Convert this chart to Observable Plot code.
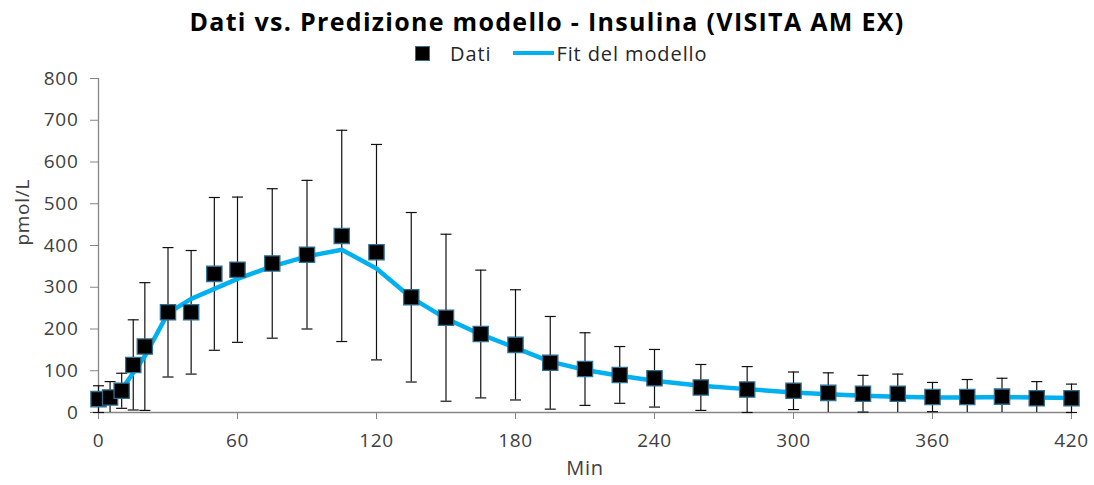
<!DOCTYPE html>
<html>
<head>
<meta charset="utf-8">
<script src="https://cdn.jsdelivr.net/npm/d3@7"></script>
<script src="https://cdn.jsdelivr.net/npm/@observablehq/plot@0.6"></script>
<style>
  body { margin: 0; background: #fff; font-family: "Open Sans", sans-serif; }
  #wrap { position: relative; width: 1094px; height: 485px; overflow: hidden; background: #fff; }
  #title { position: absolute; top: 4px; left: 0; width: 1094px; text-align: center; z-index: 2;
           font-weight: bold; font-size: 25px; letter-spacing: 1.3px; color: #000; white-space: nowrap; }
  #legend { position: absolute; top: 40px; left: 415px; height: 26px; display: flex; z-index: 2;
            align-items: center; font-size: 20px; letter-spacing: 0.9px; color: #262626; white-space: nowrap; }
  .sw-square { width: 13px; height: 13px; background: #000; border: 1px solid #2f6f8f; }
  .sw-line { width: 41px; height: 4px; background: #00b0f0; }
  #chart { position: absolute; top: 58px; left: 0; z-index: 1; }
</style>
</head>
<body>
<div id="wrap">
  <div id="title"></div>
  <div id="legend"></div>
  <div id="chart"></div>
</div>
<script>
// Insulin: measured means (± SD) and model fit over time
const titolo = "Dati vs. Predizione modello - Insulina (VISITA AM EX)";
const nomeDati = "Dati";
const nomeFit = "Fit del modello";
const etichettaX = "Min";
const etichettaY = "pmol/L";

const tempi = [0, 5, 10, 15, 20, 30, 40, 50, 60, 75, 90, 105, 120, 135, 150, 165, 180, 195, 210, 225, 240, 260, 280, 300, 315, 330, 345, 360, 375, 390, 405, 420];
const dati  = [32, 36, 52, 114, 158, 240, 240, 332, 342, 357, 378, 423, 384, 276, 227, 188, 162, 119, 104, 90, 82, 60, 55, 52, 47, 45, 45, 37, 37, 38, 34, 34];
const ds    = [32, 38, 42, 108, 153, 155, 148, 183, 174, 179, 178, 253, 258, 203, 200, 153, 132, 111, 87, 68, 69, 55, 55, 45, 48, 44, 47, 35, 42, 44, 40, 34];
const fit   = [33, 36, 55, 95, 135, 238, 272, 296, 320, 350, 374, 390, 345, 275, 225, 187, 155, 122, 102, 88, 76, 64, 56, 48, 44, 40, 38, 36, 36, 37, 36, 35];

const xTicks = [0, 60, 120, 180, 240, 300, 360, 420];
const yTicks = [0, 100, 200, 300, 400, 500, 600, 700, 800];

const rows = tempi.map((t, i) => ({
  t, v: dati[i], sd: ds[i], f: fit[i],
  lo: Math.max(0, dati[i] - ds[i]), hi: dati[i] + ds[i], capLo: dati[i] - ds[i] >= 0
}));

// horizontal cap for the error bars
const cap = { draw(ctx) { ctx.moveTo(-5.5, 0); ctx.lineTo(5.5, 0); } };

document.getElementById("title").textContent = titolo;
document.getElementById("legend").innerHTML =
  `<span class="sw-square"></span><span style="margin-left:20px">${nomeDati}</span>` +
  `<span class="sw-line" style="margin-left:22px"></span><span style="margin-left:2px">${nomeFit}</span>`;

const axisColor = "#868686";
const chart = Plot.plot({
  width: 1094,
  height: 427,
  marginLeft: 98,
  marginRight: 23,
  marginTop: 20,
  marginBottom: 73,
  style: { fontFamily: "'Open Sans', sans-serif", fontSize: "19px", color: "#404040", background: "transparent", overflow: "visible" },
  x: { domain: [0, 420] },
  y: { domain: [0, 800] },
  marks: [
    Plot.ruleY([0], { stroke: axisColor, strokeWidth: 1.3 }),
    Plot.ruleX([0], { stroke: axisColor, strokeWidth: 1.3 }),
    Plot.axisX({ ticks: xTicks, tickSize: 7, tickPadding: 14, stroke: axisColor, label: null, fill: "#404040" }),
    Plot.axisY({ ticks: yTicks, tickSize: 8, tickPadding: 12, stroke: axisColor, label: null, fill: "#404040" }),
    Plot.text([etichettaX], { frameAnchor: "bottom", dy: 62, fontSize: 20, fill: "#404040" }),
    Plot.text([etichettaY], { frameAnchor: "left", dx: -76, rotate: -90, fontSize: 19, fill: "#404040" }),
    // error bars
    Plot.ruleX(rows, { x: "t", y1: "lo", y2: "hi", stroke: "#111", strokeWidth: 1.2 }),
    Plot.dot(rows, { x: "t", y: "hi", symbol: cap, r: 1, stroke: "#111", strokeWidth: 1.2, fill: "none" }),
    Plot.dot(rows.filter(d => d.capLo), { x: "t", y: "lo", symbol: cap, r: 1, stroke: "#111", strokeWidth: 1.2, fill: "none" }),
    // model fit
    Plot.line(rows, { x: "t", y: "f", stroke: "#00b0f0", strokeWidth: 4.5, strokeLinejoin: "round" }),
    // data
    Plot.dot(rows, { x: "t", y: "v", symbol: "square", r: 8.6, fill: "#000", stroke: "#2f6f8f", strokeWidth: 1.3 })
  ]
});
chart.style.letterSpacing = "0.7px";
document.getElementById("chart").appendChild(chart);
</script>
</body>
</html>
